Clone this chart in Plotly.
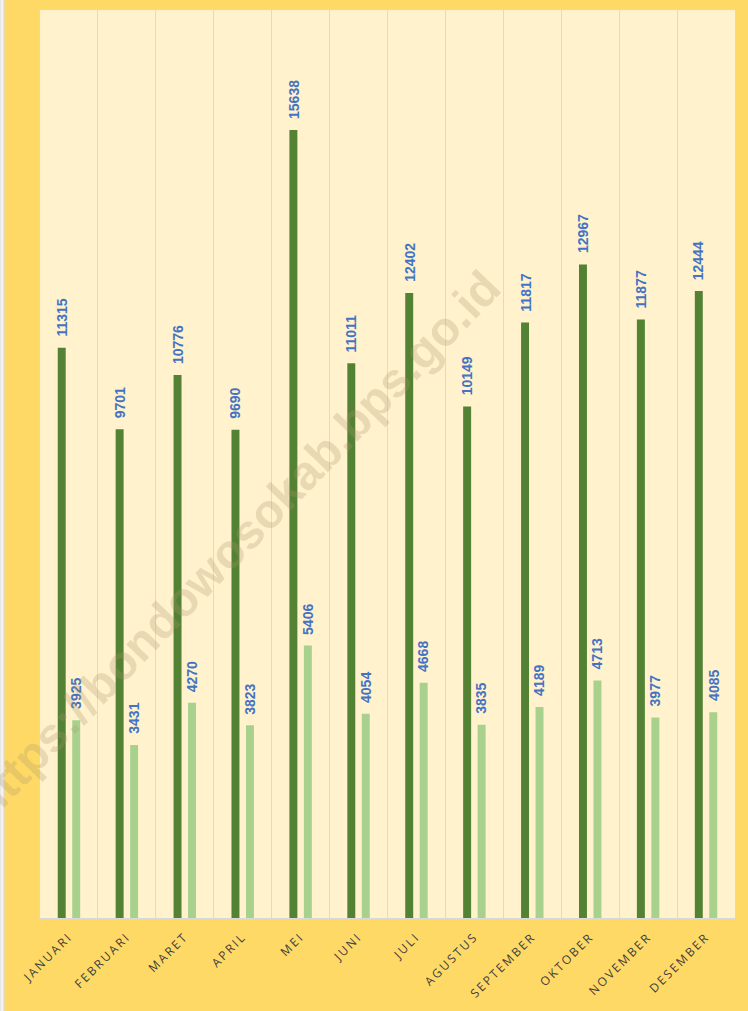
import plotly.graph_objects as go

months = ["JANUARI", "FEBRUARI", "MARET", "APRIL", "MEI", "JUNI", "JULI",
          "AGUSTUS", "SEPTEMBER", "OKTOBER", "NOVEMBER", "DESEMBER"]
series_a = [11315, 9701, 10776, 9690, 15638, 11011, 12402, 10149, 11817, 12967, 11877, 12444]
series_b = [3925, 3431, 4270, 3823, 5406, 4054, 4668, 3835, 4189, 4713, 3977, 4085]
watermark = "https://bondowosokab.bps.go.id"

DARK = "#548235"
LIGHT = "#A9D18E"
LABEL = "#4472C4"

fig = go.Figure()
fig.add_trace(go.Bar(x=months, y=series_a, name="Seri 1", marker_color=DARK,
                     marker_line_width=0, hoverinfo="x+y"))
fig.add_trace(go.Bar(x=months, y=series_b, name="Seri 2", marker_color=LIGHT,
                     marker_line_width=0, hoverinfo="x+y"))

annotations = []
for vals, shift in ((series_a, -7.2), (series_b, 7.2)):
    for m, v in zip(months, vals):
        annotations.append(dict(
            x=m, y=v, xref="x", yref="y", text=str(v), showarrow=False,
            textangle=-90, xanchor="center", yanchor="bottom",
            xshift=shift, yshift=9,
            font=dict(family="Liberation Sans Narrow, Arial, sans-serif", size=14,
                      color=LABEL, weight="bold")))

annotations.append(dict(
    x=0.281, y=0.411, xref="paper", yref="paper", text=watermark,
    showarrow=False, textangle=-46, xanchor="center", yanchor="middle",
    font=dict(family="Arial, sans-serif", size=48, color="rgba(168,145,104,0.26)",
              weight="bold")))

fig.update_layout(
    width=748, height=1011,
    margin=dict(l=40, r=13, t=10, b=93),
    paper_bgcolor="#FFD966",
    plot_bgcolor="#FFF2CC",
    barmode="group",
    bargap=0.5,
    bargroupgap=0.45,
    showlegend=False,
    annotations=annotations,
    shapes=[dict(type="rect", xref="paper", yref="paper",
                 x0=-0.0576, x1=-0.0518, y0=-0.103, y1=1.012,
                 fillcolor="#F2F2F2", line=dict(color="#D9D9D9", width=1),
                 layer="above")],
)
fig.update_xaxes(
    tickson="boundaries", showgrid=True, gridcolor="#D6D9E8", gridwidth=1,
    showline=True, linecolor="#D9D9D9", linewidth=1, mirror=True,
    ticks="", tickangle=-45, ticklabelstandoff=6,
    tickfont=dict(family="Open Sans, Noto Sans, sans-serif", size=12, color="#404040"),
)
fig.update_yaxes(
    range=[0, 18020], showgrid=False, zeroline=False, showticklabels=False,
    showline=True, linecolor="#D9D9D9", linewidth=1, mirror=True, ticks="",
)

post = """
document.body.style.margin = '0';
document.documentElement.style.overflow = 'hidden';
document.querySelectorAll('.xtick text').forEach(function (t) {
  t.style.letterSpacing = '2.2px';
});
"""

fig.write_html("out.html", post_script=post, config={"displayModeBar": False})
